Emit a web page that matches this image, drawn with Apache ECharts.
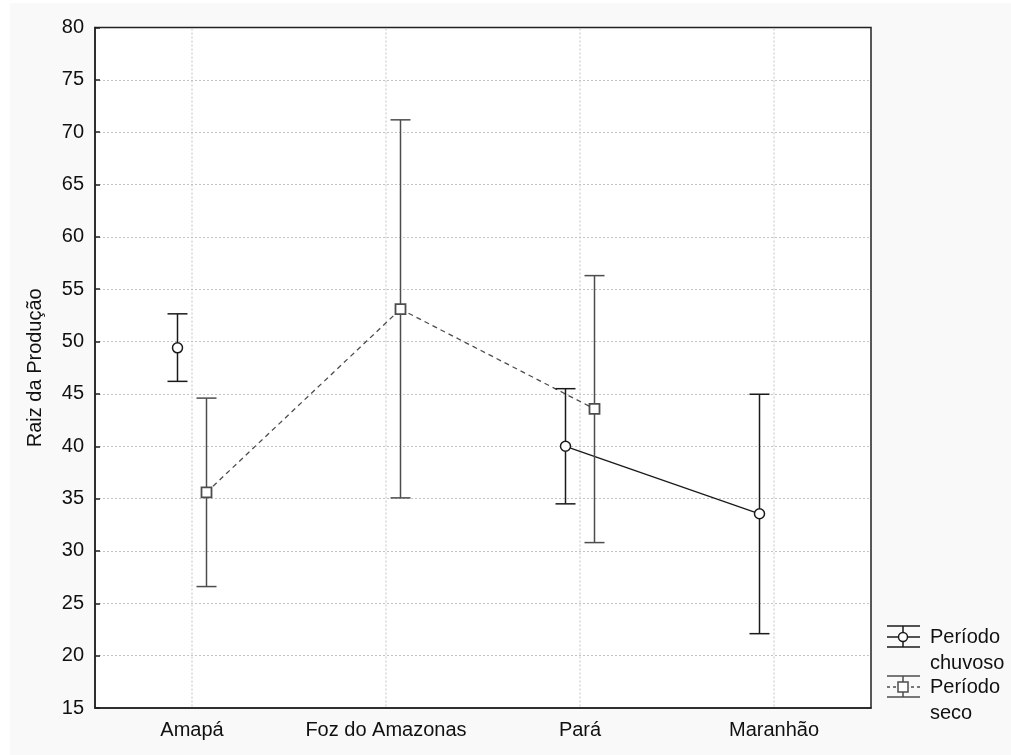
<!DOCTYPE html>
<html>
<head>
<meta charset="utf-8">
<script src="https://cdn.jsdelivr.net/npm/echarts@6/dist/echarts.min.js"></script>
<style>html,body{margin:0;padding:0;background:#fff}#c{width:1011px;height:755px}</style>
</head>
<body>
<div id="c"></div>
<script>
const categories = ['Amapá', 'Foz do Amazonas', 'Pará', 'Maranhão'];
const yTicks = [15, 20, 25, 30, 35, 40, 45, 50, 55, 60, 65, 70, 75, 80];
const chuvosoMean = [49.4, null, 40.0, 33.55];
const chuvosoLow  = [46.2, null, 34.5, 22.1];
const chuvosoHigh = [52.65, null, 45.5, 44.97];
const secoMean = [35.6, 53.1, 43.57, null];
const secoLow  = [26.6, 35.07, 30.8, null];
const secoHigh = [44.6, 71.18, 56.3, null];
const seriesNames = ['Período chuvoso', 'Período seco'];

const FONT = '"Liberation Sans", Arial, sans-serif';
const FS = 20;
const C_CHUV = '#1a1a1a';
const C_SECO = '#4d4d4d';
const OFF = 14.5;

function errData(mean, low, high) {
  return categories.map((c, i) => [i, mean[i], low[i], high[i]]).filter(d => d[1] != null);
}
function segData(mean) {
  const out = [];
  for (let i = 0; i < mean.length - 1; i++) {
    if (mean[i] != null && mean[i + 1] != null) out.push([i, mean[i], i + 1, mean[i + 1]]);
  }
  return out;
}
function errRender(offset, color, shape) {
  return function (params, api) {
    const i = api.value(0);
    const pm = api.coord([i, api.value(1)]);
    const pl = api.coord([i, api.value(2)]);
    const ph = api.coord([i, api.value(3)]);
    const x = pm[0] + offset;
    const ls = { stroke: color, lineWidth: 1.5, fill: null };
    const children = [
      { type: 'line', shape: { x1: x, y1: pl[1], x2: x, y2: ph[1] }, style: ls },
      { type: 'line', shape: { x1: x - 10, y1: pl[1], x2: x + 10, y2: pl[1] }, style: ls },
      { type: 'line', shape: { x1: x - 10, y1: ph[1], x2: x + 10, y2: ph[1] }, style: ls }
    ];
    if (shape === 'circle') {
      children.push({ type: 'circle', shape: { cx: x, cy: pm[1], r: 5 }, style: { fill: '#fff', stroke: color, lineWidth: 1.5 } });
    } else {
      children.push({ type: 'rect', shape: { x: x - 5, y: pm[1] - 5, width: 10, height: 10 }, style: { fill: '#fff', stroke: color, lineWidth: 1.8 } });
    }
    return { type: 'group', children: children };
  };
}
function segRender(offset, color, dash) {
  return function (params, api) {
    const a = api.coord([api.value(0), api.value(1)]);
    const b = api.coord([api.value(2), api.value(3)]);
    return { type: 'line', shape: { x1: a[0] + offset, y1: a[1], x2: b[0] + offset, y2: b[1] },
      style: { stroke: color, lineWidth: 1.3, lineDash: dash } };
  };
}

const chart = echarts.init(document.getElementById('c'), null, { renderer: 'canvas' });

const legendX = 887, legendMid = 903;
const legendGraphics = [
  { type: 'rect', left: 10, top: 3, shape: { x: 0, y: 0, width: 1001, height: 752 }, style: { fill: '#f9f9f9' }, z: -100, silent: true },
  { type: 'line', shape: { x1: legendX, y1: 626, x2: legendX + 33, y2: 626 }, style: { stroke: C_CHUV, lineWidth: 1.5 } },
  { type: 'line', shape: { x1: legendX, y1: 647, x2: legendX + 33, y2: 647 }, style: { stroke: C_CHUV, lineWidth: 1.5 } },
  { type: 'line', shape: { x1: legendMid, y1: 626, x2: legendMid, y2: 647 }, style: { stroke: C_CHUV, lineWidth: 1.5 } },
  { type: 'line', shape: { x1: legendX, y1: 637, x2: legendX + 33, y2: 637 }, style: { stroke: C_CHUV, lineWidth: 1.3 } },
  { type: 'circle', shape: { cx: legendMid, cy: 637, r: 4.5 }, style: { fill: '#fff', stroke: C_CHUV, lineWidth: 1.5 } },
  { type: 'text', x: 930, y: 637, style: { text: 'Período', font: FS + 'px ' + FONT, fill: '#111', verticalAlign: 'middle' } },
  { type: 'text', x: 930, y: 663, style: { text: 'chuvoso', font: FS + 'px ' + FONT, fill: '#111', verticalAlign: 'middle' } },
  { type: 'line', shape: { x1: legendX, y1: 676, x2: legendX + 33, y2: 676 }, style: { stroke: C_SECO, lineWidth: 1.5 } },
  { type: 'line', shape: { x1: legendX, y1: 697, x2: legendX + 33, y2: 697 }, style: { stroke: C_SECO, lineWidth: 1.5 } },
  { type: 'line', shape: { x1: legendMid, y1: 676, x2: legendMid, y2: 697 }, style: { stroke: C_SECO, lineWidth: 1.5 } },
  { type: 'line', shape: { x1: legendX, y1: 687, x2: legendX + 33, y2: 687 }, style: { stroke: C_SECO, lineWidth: 1.3, lineDash: [3, 3] } },
  { type: 'rect', shape: { x: legendMid - 5, y: 682, width: 10, height: 10 }, style: { fill: '#fff', stroke: C_SECO, lineWidth: 1.5 } },
  { type: 'text', x: 930, y: 687, style: { text: 'Período', font: FS + 'px ' + FONT, fill: '#111', verticalAlign: 'middle' } },
  { type: 'text', x: 930, y: 713, style: { text: 'seco', font: FS + 'px ' + FONT, fill: '#111', verticalAlign: 'middle' } }
];

const option = {
  animation: false,
  backgroundColor: '#ffffff',
  textStyle: { fontFamily: FONT },
  graphic: legendGraphics,
  grid: { left: 95, right: 140, top: 27.5, bottom: 47, show: true, backgroundColor: '#ffffff', borderColor: '#222', borderWidth: 1.5 },
  xAxis: {
    type: 'category',
    data: categories,
    boundaryGap: true,
    axisLine: { lineStyle: { color: '#222', width: 1.5 } },
    axisTick: { alignWithLabel: true, inside: true, length: 5, lineStyle: { color: '#222', width: 1.5 } },
    axisLabel: { color: '#111', fontSize: FS, fontFamily: FONT, margin: 12, interval: 0 },
    splitLine: { show: false }
  },
  yAxis: {
    type: 'value',
    min: yTicks[0], max: yTicks[yTicks.length - 1], interval: 5,
    name: 'Raiz da Produção',
    nameLocation: 'middle',
    nameGap: 50,
    nameTextStyle: { color: '#111', fontSize: FS, fontFamily: FONT },
    axisLine: { show: true, lineStyle: { color: '#222', width: 1.5 } },
    axisTick: { show: true, inside: true, length: 5, lineStyle: { color: '#222', width: 1.5 } },
    axisLabel: { color: '#111', fontSize: FS, fontFamily: FONT, margin: 11 },
    splitLine: { show: true, showMinLine: false, showMaxLine: false, lineStyle: { color: '#c4c4c4', width: 1, type: [2, 2] } }
  },
  series: [
    {
      type: 'custom', name: 'vgrid', z: 1, silent: true,
      data: categories.map((c, i) => [i, yTicks[0]]),
      renderItem: function (params, api) {
        const p = api.coord([api.value(0), api.value(1)]);
        const cs = params.coordSys;
        return { type: 'line', shape: { x1: p[0], y1: cs.y + 1, x2: p[0], y2: cs.y + cs.height - 1 },
          style: { stroke: '#c4c4c4', lineWidth: 1, lineDash: [2, 2] } };
      }
    },
    {
      type: 'custom', name: seriesNames[0] + ' line', z: 2, silent: true,
      data: segData(chuvosoMean), encode: { x: [0, 2], y: [1, 3] },
      renderItem: segRender(-OFF, C_CHUV, null)
    },
    {
      type: 'custom', name: seriesNames[1] + ' line', z: 2, silent: true,
      data: segData(secoMean), encode: { x: [0, 2], y: [1, 3] },
      renderItem: segRender(OFF, C_SECO, [5, 4])
    },
    {
      type: 'custom', name: seriesNames[0], z: 3,
      data: errData(chuvosoMean, chuvosoLow, chuvosoHigh), encode: { x: 0, y: [1, 2, 3] },
      renderItem: errRender(-OFF, C_CHUV, 'circle')
    },
    {
      type: 'custom', name: seriesNames[1], z: 3,
      data: errData(secoMean, secoLow, secoHigh), encode: { x: 0, y: [1, 2, 3] },
      renderItem: errRender(OFF, C_SECO, 'rect')
    }
  ]
};
chart.setOption(option);
</script>
</body>
</html>
